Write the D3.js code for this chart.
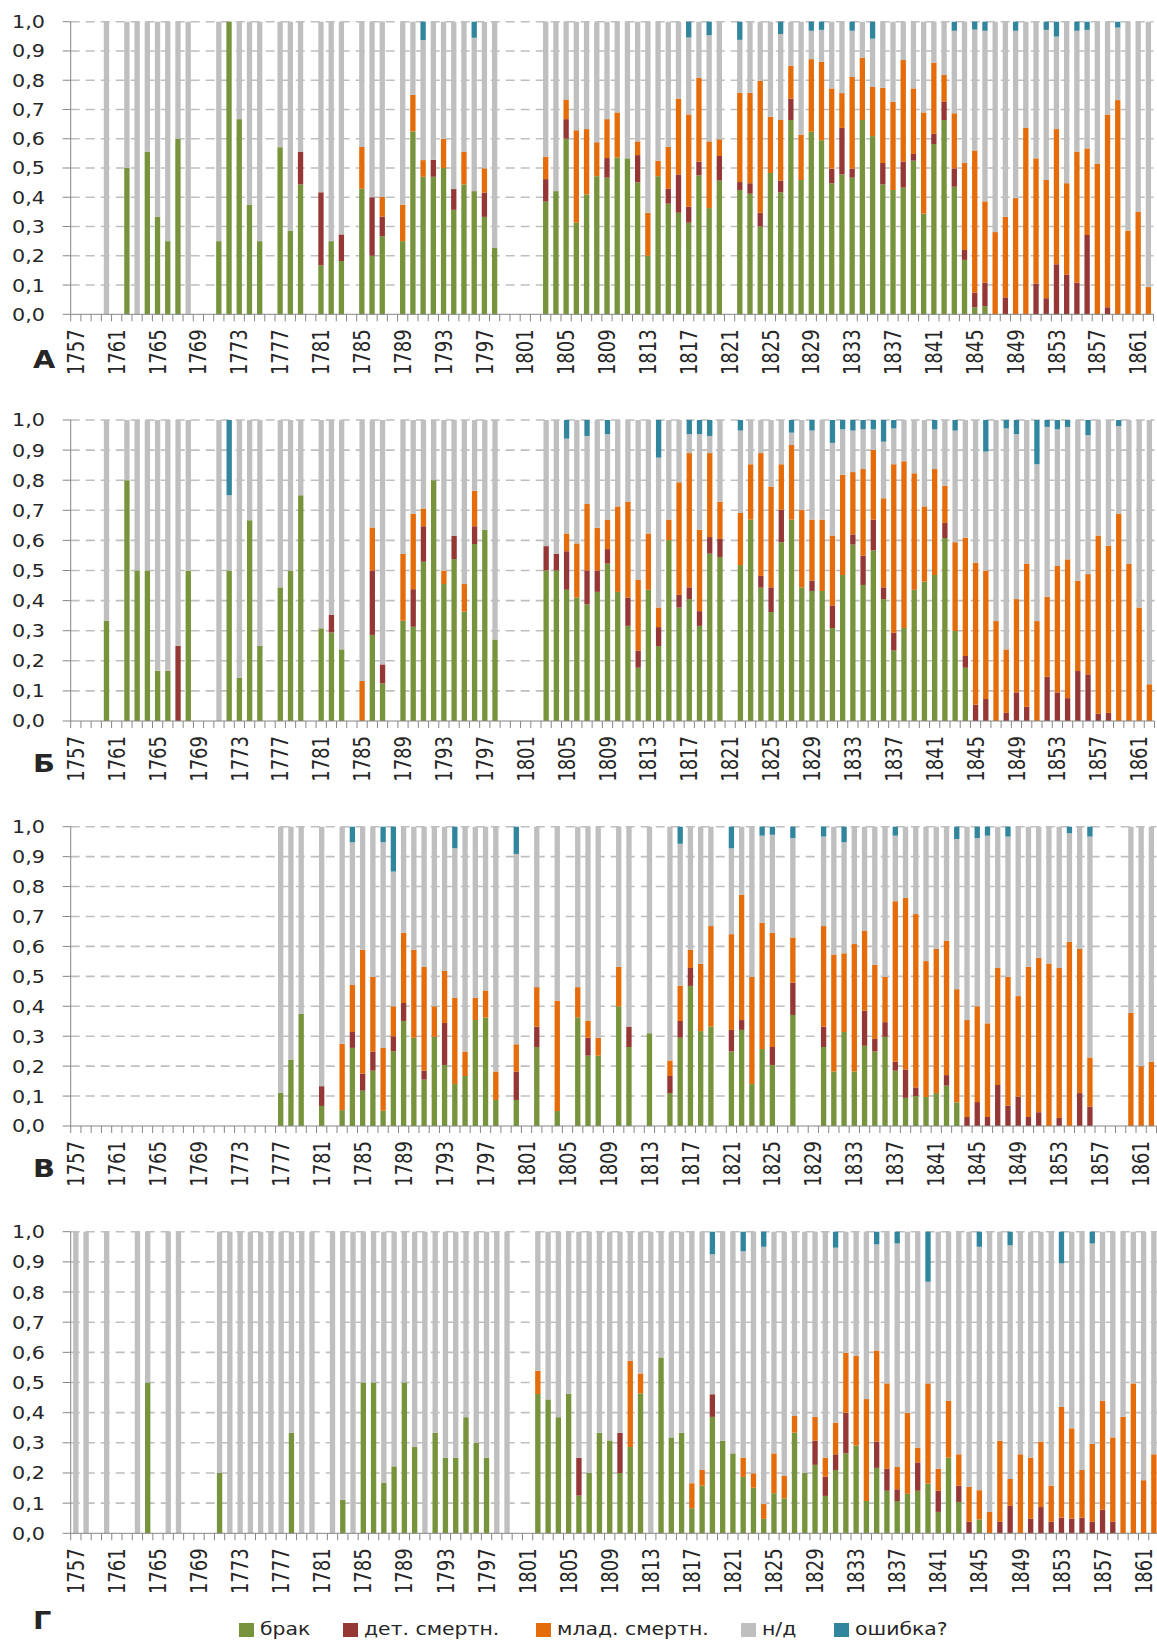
<!DOCTYPE html>
<html><head><meta charset="utf-8">
<script src="https://cdn.jsdelivr.net/npm/d3@7"></script>
<style>body{margin:0;background:#fff;} svg{display:block;}</style>
</head><body><svg id="c" width="1157" height="1643"></svg>
<script>
const _ = null;
const years = d3.range(1757, 1863);
const tickYears = [1757,1761,1765,1769,1773,1777,1781,1785,1789,1793,1797,1801,1805,1809,1813,1817,1821,1825,1829,1833,1837,1841,1845,1849,1853,1857,1861];
const yTicks = [0,0.1,0.2,0.3,0.4,0.5,0.6,0.7,0.8,0.9,1.0];
const yTickLabels = ["0,0","0,1","0,2","0,3","0,4","0,5","0,6","0,7","0,8","0,9","1,0"];
const seriesNames = ["брак","дет. смертн.","млад. смертн.","н/д","ошибка?"];
const colors = ["#77933c","#953735","#e46c0a","#bfbfbf","#31859c"];
const panelLabels = ["А","Б","В","Г"];

// ---------- Panel А ----------
const A_brak = [
_,_,_,0,_,0.5,0,0.556,0.333,0.25,
0.6,0,_,_,0.25,1,0.667,0.375,0.25,_,
0.571,0.286,0.444,_,0.167,0.25,0.182,_,0.429,0.2,
0.267,_,0.25,0.625,0.47,0.47,0.5,0.357,0.444,0.421,
0.333,0.228,_,_,_,_,0.385,0.421,0.6,0.313,
0.41,0.472,0.467,0.536,0.533,0.451,0.2,0.472,0.378,0.347,
0.313,0.475,0.363,0.457,_,0.425,0.412,0.3,0.483,0.417,
0.664,0.459,0.624,0.595,0.448,0.478,0.467,0.664,0.609,0.444,
0.425,0.433,0.525,0.344,0.582,0.664,0.436,0.186,0.024,0.028,
0,0,0,0,0,0,0,0,0,0,
0,0,0,0,0,0];
const A_det = [
_,_,_,0,_,0,0,0,0,0,
0,0,_,_,0,0,0,0,0,_,
0,0,0.111,_,0.25,0,0.091,_,0,0.2,
0.067,_,0,0,0,0.058,0,0.071,0,0,
0.083,0,_,_,_,_,0.077,0,0.067,0,
0,0,0.067,0,0,0.093,0,0,0.051,0.131,
0.055,0.047,0,0.084,_,0.027,0.036,0.047,0,0.04,
0.073,0,0,0,0.05,0.159,0.031,0,0,0.073,
0,0.089,0.023,0,0.035,0.062,0.063,0.034,0.05,0.08,
0,0.058,0,0,0.105,0.055,0.171,0.136,0.108,0.271,
0,0.024,0,0,0,0];
const A_mlad = [
_,_,_,0,_,0,0,0,0,0,
0,0,_,_,0,0,0,0,0,_,
0,0,0,_,0,0,0,_,0.143,0,
0.067,_,0.125,0.125,0.057,0,0.1,0,0.111,0,
0.083,0,_,_,_,_,0.077,0,0.067,0.316,
0.223,0.116,0.133,0.154,0,0.047,0.147,0.053,0.143,0.259,
0.315,0.286,0.228,0.057,_,0.305,0.309,0.451,0.192,0.207,
0.112,0.155,0.248,0.268,0.274,0.119,0.313,0.213,0.168,0.257,
0.301,0.347,0.224,0.346,0.243,0.092,0.188,0.297,0.486,0.278,
0.281,0.275,0.397,0.637,0.428,0.404,0.462,0.312,0.448,0.296,
0.514,0.659,0.732,0.286,0.351,0.093];
const A_nd = [
_,_,_,1,_,0.5,1,0.444,0.667,0.75,
0.4,1,_,_,0.75,0,0.333,0.625,0.75,_,
0.429,0.714,0.444,_,0.583,0.75,0.727,_,0.429,0.6,
0.6,_,0.625,0.25,0.41,0.472,0.4,0.571,0.444,0.524,
0.5,0.772,_,_,_,_,0.462,0.579,0.267,0.371,
0.367,0.412,0.333,0.31,0.467,0.409,0.653,0.475,0.428,0.263,
0.263,0.192,0.363,0.402,_,0.181,0.243,0.202,0.325,0.294,
0.151,0.386,0.097,0.109,0.228,0.244,0.158,0.123,0.165,0.226,
0.274,0.131,0.228,0.31,0.14,0.182,0.282,0.483,0.413,0.583,
0.719,0.667,0.572,0.363,0.467,0.513,0.316,0.552,0.413,0.405,
0.486,0.317,0.248,0.714,0.649,0.907];
const A_err = [
_,_,_,0,_,0,0,0,0,0,
0,0,_,_,0,0,0,0,0,_,
0,0,0,_,0,0,0,_,0,0,
0,_,0,0,0.063,0,0,0,0,0.055,
0,0,_,_,_,_,0,0,0,0,
0,0,0,0,0,0,0,0,0,0,
0.054,0,0.046,0,_,0.062,0,0,0,0.042,
0,0,0.031,0.028,0,0,0.031,0,0.058,0,
0,0,0,0,0,0,0.031,0,0.027,0.031,
0,0,0.031,0,0,0.028,0.051,0,0.031,0.028,
0,0,0.02,0,0,0];

// ---------- Panel Б ----------
const B_brak = [
_,_,_,0.333,_,0.8,0.5,0.5,0.167,0.167,
0,0.5,_,_,0,0.5,0.143,0.667,0.25,_,
0.444,0.5,0.75,_,0.308,0.294,0.238,_,0,0.286,
0.125,_,0.333,0.313,0.529,0.8,0.455,0.538,0.364,0.588,
0.636,0.271,_,_,_,_,0.5,0.5,0.436,0.41,
0.388,0.429,0.523,0.429,0.316,0.177,0.436,0.249,0.601,0.377,
0.405,0.316,0.556,0.545,_,0.518,0.669,0.443,0.362,0.594,
0.669,0.444,0.432,0.432,0.309,0.485,0.586,0.452,0.567,0.405,
0.234,0.309,0.436,0.463,0.485,0.608,0.299,0.177,0,0,
0,0,0,0,0,0,0,0,0,0,
0,0,0,0,0,0];
const B_det = [
_,_,_,0,_,0,0,0,0,0,
0.25,0,_,_,0,0,0,0,0,_,
0,0,0,_,0,0.059,0,_,0,0.214,
0.063,_,0,0.125,0.118,0,0,0.077,0,0.059,
0,0,_,_,_,_,0.081,0.056,0.128,0,
0.112,0.071,0.048,0,0.094,0.057,0,0.063,0,0.042,
0.039,0.049,0.055,0.06,_,0,0,0.039,0.082,0.108,
0,0,0.034,0,0.075,0,0.034,0.097,0.102,0.039,
0.059,0,0,0,0,0.05,0,0.039,0.054,0.073,
0,0.027,0.095,0.047,0,0.147,0.095,0.076,0.166,0.155,
0.024,0.027,0,0,0,0];
const B_mlad = [
_,_,_,0,_,0,0,0,0,0,
0,0,_,_,0,0,0,0,0,_,
0,0,0,_,0,0,0,_,0.133,0.143,
0,_,0.222,0.25,0.059,0,0.045,0,0.091,0.118,
0,0,_,_,_,_,0,0,0.059,0.18,
0.221,0.142,0.098,0.284,0.319,0.236,0.187,0.065,0.068,0.374,
0.446,0.27,0.279,0.124,_,0.173,0.184,0.408,0.335,0.151,
0.248,0.258,0.203,0.237,0.232,0.333,0.207,0.288,0.232,0.296,
0.56,0.554,0.387,0.25,0.352,0.124,0.295,0.393,0.472,0.427,
0.332,0.211,0.31,0.476,0.332,0.266,0.42,0.461,0.3,0.333,
0.592,0.555,0.688,0.522,0.377,0.122];
const B_nd = [
_,_,_,0.667,_,0.2,0.5,0.5,0.833,0.833,
0.75,0.5,_,_,1,0.25,0.857,0.333,0.75,_,
0.556,0.5,0.25,_,0.692,0.647,0.762,_,0.867,0.357,
0.812,_,0.445,0.312,0.294,0.2,0.5,0.385,0.545,0.235,
0.364,0.729,_,_,_,_,0.419,0.444,0.315,0.41,
0.226,0.358,0.284,0.287,0.271,0.53,0.377,0.498,0.331,0.207,
0.063,0.318,0.057,0.271,_,0.274,0.147,0.11,0.221,0.147,
0.041,0.298,0.296,0.331,0.308,0.151,0.138,0.132,0.068,0.188,
0.119,0.137,0.177,0.287,0.132,0.218,0.371,0.391,0.474,0.395,
0.668,0.734,0.548,0.477,0.521,0.564,0.454,0.44,0.534,0.462,
0.384,0.418,0.292,0.478,0.623,0.878];
const B_err = [
_,_,_,0,_,0,0,0,0,0,
0,0,_,_,0,0.25,0,0,0,_,
0,0,0,_,0,0,0,_,0,0,
0,_,0,0,0,0,0,0,0,0,
0,0,_,_,_,_,0,0,0.062,0,
0.053,0,0.047,0,0,0,0,0.125,0,0,
0.047,0.047,0.053,0,_,0.035,0,0,0,0,
0.042,0,0.035,0,0.076,0.031,0.035,0.031,0.031,0.072,
0.028,0,0,0,0.031,0,0.035,0,0,0.105,
0,0.028,0.047,0,0.147,0.023,0.031,0.023,0,0.05,
0,0,0.02,0,0,0];

// ---------- Panel В ----------
const C_brak = [
_,_,_,_,_,_,_,_,_,_,
_,_,_,_,_,_,_,_,_,_,
0.111,0.222,0.375,_,0.067,_,0.053,0.261,0.118,0.185,
0.051,0.25,0.351,0.295,0.155,0.298,0.204,0.14,0.167,0.354,
0.362,0.087,_,0.087,_,0.264,_,0.05,_,0.363,
0.235,0.235,_,0.4,0.264,_,0.31,_,0.11,0.295,
0.468,0.317,0.332,_,0.249,0.321,0.14,0.257,0.204,_,
0.371,_,_,0.264,0.182,0.314,0.182,0.268,0.249,0.298,
0.185,0.094,0.1,0.097,0.11,0.135,0.079,0,0,0,
0,0,0,0,0,0,0,0,0,0,
_,_,_,0,0,0];
const C_det = [
_,_,_,_,_,_,_,_,_,_,
_,_,_,_,_,_,_,_,_,_,
0,0,0,_,0.066,_,0,0.053,0.057,0.064,
0,0.05,0.06,0,0.03,0,0.14,0,0,0,
0,0,_,0.095,_,0.068,_,0,_,0,
0.06,0,_,0,0.068,_,0,_,0.057,0.056,
0.06,0,0,_,0.072,0.033,0,0,0.06,_,
0.108,_,_,0.068,0,0,0,0.117,0.042,0.049,
0.03,0.095,0.029,0,0,0.035,0,0.03,0.08,0.03,
0.137,0.068,0.098,0.03,0.046,0,0.027,0,0.11,0.065,
_,_,_,0,0,0];
const C_mlad = [
_,_,_,_,_,_,_,_,_,_,
_,_,_,_,_,_,_,_,_,_,
0,0,0,_,0,_,0.222,0.157,0.414,0.249,
0.21,0.1,0.235,0.294,0.347,0.102,0.174,0.288,0.082,0.074,
0.091,0.095,_,0.091,_,0.132,_,0.369,_,0.101,
0.057,0.06,_,0.132,0,_,0,_,0.052,0.117,
0.061,0.225,0.336,_,0.32,0.419,0.358,0.422,0.382,_,
0.151,_,_,0.336,0.391,0.263,0.426,0.268,0.248,0.151,
0.536,0.573,0.579,0.454,0.482,0.449,0.378,0.324,0.32,0.313,
0.391,0.43,0.336,0.502,0.516,0.543,0.501,0.615,0.482,0.164,
_,_,_,0.378,0.2,0.215];
const C_nd = [
_,_,_,_,_,_,_,_,_,_,
_,_,_,_,_,_,_,_,_,_,
0.889,0.778,0.625,_,0.867,_,0.725,0.477,0.411,0.502,
0.687,0.45,0.354,0.411,0.468,0.6,0.482,0.5,0.751,0.572,
0.547,0.818,_,0.636,_,0.536,_,0.581,_,0.536,
0.648,0.705,_,0.468,0.668,_,0.69,_,0.781,0.475,
0.411,0.458,0.332,_,0.287,0.227,0.502,0.291,0.327,_,
0.332,_,_,0.299,0.427,0.371,0.392,0.347,0.461,0.502,
0.219,0.238,0.292,0.449,0.408,0.381,0.502,0.646,0.562,0.627,
0.472,0.469,0.566,0.468,0.438,0.457,0.472,0.363,0.408,0.738,
_,_,_,0.622,0.8,0.785];
const C_err = [
_,_,_,_,_,_,_,_,_,_,
_,_,_,_,_,_,_,_,_,_,
0,0,0,_,0,_,0,0.052,0,0,
0.052,0.15,0,0,0,0,0,0.072,0,0,
0,0,_,0.091,_,0,_,0,_,0,
0,0,_,0,0,_,0,_,0,0.057,
0,0,0,_,0.072,0,0,0.03,0.027,_,
0.038,_,_,0.033,0,0.052,0,0,0,0,
0.03,0,0,0,0,0,0.041,0,0.038,0.03,
0,0.033,0,0,0,0,0,0.022,0,0.033,
_,_,_,0,0,0];

// ---------- Panel Г ----------
const D_brak = [
0,0,_,0,_,_,0,0.5,_,0,
0,_,_,_,0.2,0,0,0,0,0,
0,0.333,0,0,_,0,0.111,0,0.5,0.5,
0.167,0.222,0.5,0.286,0,0.333,0.25,0.25,0.385,0.3,
0.25,0,0,_,_,0.462,0.444,0.385,0.462,0.125,
0.2,0.333,0.308,0.2,0.286,0.464,0,0.583,0.318,0.333,
0.083,0.158,0.386,0.307,0.265,0.187,0.151,0.048,0.133,0.116,
0.334,0.2,0.227,0.124,0.21,0.265,0.291,0.107,0.217,0.141,
0.107,0.131,0.141,0.165,0.071,0.251,0.104,0,0.046,0,
0,0,0,0,0,0,0,0,0,0,
0,0,0,0,0,0];
const D_det = [
0,0,_,0,_,_,0,0,_,0,
0,_,_,_,0,0,0,0,0,0,
0,0,0,0,_,0,0,0,0,0,
0,0,0,0,0,0,0,0,0,0,
0,0,0,_,_,0,0,0,0,0.125,
0,0,0,0.133,0,0,0,0,0,0,
0,0,0.075,0,0,0,0,0,0,0,
0,0,0.08,0.064,0.052,0.135,0,0,0.087,0.073,
0.039,0,0.094,0,0.07,0,0.054,0.038,0,0,
0.038,0.091,0,0.049,0.087,0.038,0.052,0.049,0.052,0.038,
0.078,0.038,0,0,0,0];
const D_mlad = [
0,0,_,0,_,_,0,0,_,0,
0,_,_,_,0,0,0,0,0,0,
0,0,0,0,_,0,0,0,0,0,
0,0,0,0,0,0,0,0,0,0,
0,0,0,_,_,0.077,0,0,0,0,
0,0,0,0,0.286,0.066,0,0,0,0,
0.083,0.052,0,0,0,0.064,0.048,0.049,0.132,0.075,
0.055,0,0.079,0.063,0.105,0.199,0.297,0.338,0.302,0.283,
0.074,0.269,0.049,0.332,0.073,0.188,0.104,0.116,0.097,0.071,
0.269,0.089,0.262,0.202,0.217,0.12,0.367,0.299,0.158,0.258,
0.361,0.28,0.386,0.497,0.176,0.262];
const D_nd = [
1,1,_,1,_,_,1,0.5,_,1,
1,_,_,_,0.8,1,1,1,1,1,
1,0.667,1,1,_,1,0.889,1,0.5,0.5,
0.833,0.778,0.5,0.714,1,0.667,0.75,0.75,0.615,0.7,
0.75,1,1,_,_,0.461,0.556,0.615,0.538,0.75,
0.8,0.667,0.692,0.667,0.428,0.47,1,0.417,0.682,0.667,
0.834,0.79,0.464,0.693,0.735,0.684,0.801,0.853,0.735,0.809,
0.611,0.8,0.614,0.749,0.58,0.401,0.412,0.555,0.352,0.503,
0.741,0.6,0.716,0.337,0.786,0.561,0.738,0.846,0.807,0.929,
0.693,0.775,0.738,0.749,0.696,0.842,0.476,0.652,0.79,0.665,
0.561,0.682,0.614,0.503,0.824,0.738];
const D_err = [
0,0,_,0,_,_,0,0,_,0,
0,_,_,_,0,0,0,0,0,0,
0,0,0,0,_,0,0,0,0,0,
0,0,0,0,0,0,0,0,0,0,
0,0,0,_,_,0,0,0,0,0,
0,0,0,0,0,0,0,0,0,0,
0,0,0.075,0,0,0.065,0,0.05,0,0,
0,0,0,0,0.053,0,0,0,0.042,0,
0.039,0,0,0.166,0,0,0,0,0.05,0,
0,0.045,0,0,0,0,0.105,0,0,0.039,
0,0,0,0,0,0];

// ---------- layout ----------
const keys = ["brak","det","mlad","nd","err"];
const panels = [
  {label: panelLabels[0], s:[A_brak,A_det,A_mlad,A_nd,A_err], x0:70.7, x1:1153.5, yTop:21.7, yBot:314.3, ly:368},
  {label: panelLabels[1], s:[B_brak,B_det,B_mlad,B_nd,B_err], x0:70.7, x1:1154.5, yTop:420, yBot:721, ly:772},
  {label: panelLabels[2], s:[C_brak,C_det,C_mlad,C_nd,C_err], x0:70.7, x1:1156.5, yTop:826.7, yBot:1126, ly:1177},
  {label: panelLabels[3], s:[D_brak,D_det,D_mlad,D_nd,D_err], x0:70.7, x1:1159, yTop:1231.7, yBot:1533.3, ly:1629}
];
const FONT = "'DejaVu Sans', Verdana, sans-serif";
const svg = d3.select("#c");
const axisColor = "#868686";

panels.forEach(p => {
  const x = d3.scaleBand().domain(years).range([p.x0, p.x1]).paddingInner(0.48).paddingOuter(0.24);
  const y = d3.scaleLinear().domain([0,1]).range([p.yBot, p.yTop]);
  const step = x.step();
  const g = svg.append("g");

  // gridlines
  g.append("g").selectAll("line").data(yTicks.filter(d => d > 0)).join("line")
    .attr("x1", p.x0).attr("x2", p.x1)
    .attr("y1", d => y(d)).attr("y2", d => y(d))
    .attr("stroke", "#bfbfbf").attr("stroke-width", 1.6).attr("stroke-dasharray", "9,6");

  // bars
  const rows = years.map((yr, i) => ({year: yr, brak: p.s[0][i], det: p.s[1][i], mlad: p.s[2][i], nd: p.s[3][i], err: p.s[4][i]}))
    .filter(r => r.brak !== null);
  const layers = d3.stack().keys(keys)(rows);
  layers.forEach((layer, k) => {
    g.append("g").attr("fill", colors[k]).selectAll("rect")
      .data(layer.filter(d => d[1] - d[0] > 0)).join("rect")
      .attr("x", d => x(d.data.year)).attr("width", x.bandwidth())
      .attr("y", d => y(d[1])).attr("height", d => y(d[0]) - y(d[1]));
  });

  // y axis
  g.append("line").attr("x1", p.x0).attr("x2", p.x0).attr("y1", y(0)).attr("y2", y(1))
    .attr("stroke", axisColor).attr("stroke-width", 1);
  g.append("g").selectAll("line").data(yTicks).join("line")
    .attr("x1", p.x0 - 8).attr("x2", p.x0).attr("y1", d => y(d)).attr("y2", d => y(d))
    .attr("stroke", axisColor).attr("stroke-width", 1);
  g.append("g").selectAll("text").data(yTicks).join("text")
    .attr("transform", d => `translate(45,${y(d)}) scale(1.15,1)`)
    .attr("text-anchor", "end").attr("dy", "0.36em")
    .attr("font-family", FONT).attr("font-size", 18).attr("fill", "#262626")
    .text((d, i) => yTickLabels[i]);

  // x axis
  g.append("line").attr("x1", p.x0).attr("x2", p.x1).attr("y1", y(0)).attr("y2", y(0))
    .attr("stroke", axisColor).attr("stroke-width", 1);
  g.append("g").selectAll("line").data(d3.range(years.length + 1)).join("line")
    .attr("x1", k => p.x0 + k * step).attr("x2", k => p.x0 + k * step)
    .attr("y1", y(0)).attr("y2", y(0) + 7)
    .attr("stroke", axisColor).attr("stroke-width", 1);
  g.append("g").selectAll("text").data(tickYears).join("text")
    .attr("transform", d => `translate(${x(d) + x.bandwidth()/2},${y(0) + 15}) scale(1.25,1) rotate(-90)`)
    .attr("text-anchor", "end").attr("dy", "0.36em")
    .attr("font-family", FONT).attr("font-size", 18).attr("fill", "#262626")
    .text(d => d);

  // panel letter
  g.append("text").attr("transform", `translate(33,${p.ly}) scale(1.2,1)`)
    .attr("font-family", FONT).attr("font-size", 24).attr("font-weight", "bold").attr("fill", "#262626")
    .text(p.label);
});

// legend
const legendX = [239, 343, 536, 741, 834];
const lg = svg.append("g");
seriesNames.forEach((name, i) => {
  lg.append("rect").attr("x", legendX[i]).attr("y", 1623).attr("width", 15).attr("height", 14).attr("fill", colors[i]);
  lg.append("text").attr("transform", `translate(${legendX[i] + 21},1635) scale(1.2,1)`)
    .attr("font-family", FONT).attr("font-size", 17).attr("fill", "#262626").text(name);
});
</script>
</body></html>
